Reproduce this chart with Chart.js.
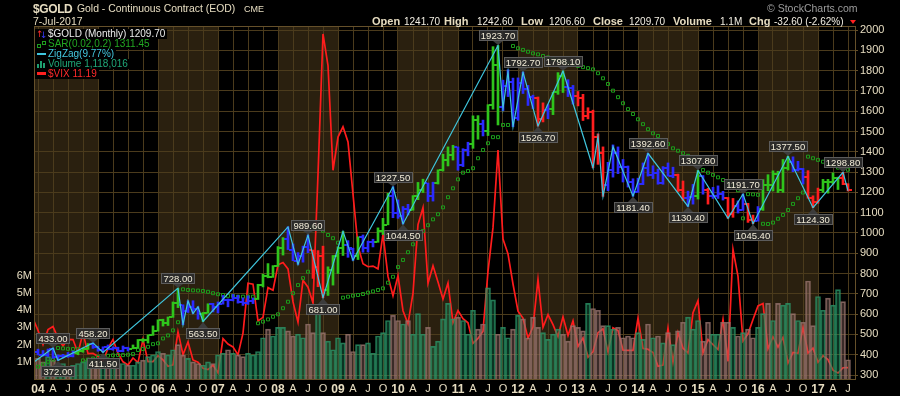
<!DOCTYPE html>
<html>
<head>
<meta charset="utf-8">
<script src="https://cdn.jsdelivr.net/npm/chart.js@4.4.1/dist/chart.umd.min.js"></script>
<style>
  html, body { margin: 0; padding: 0; background: #000; }
  #wrap { position: relative; width: 900px; height: 396px; overflow: hidden; font-family: "Liberation Sans", Arial, sans-serif; }
  #chart { position: absolute; left: 0; top: 0; }
  .t { position: absolute; white-space: nowrap; line-height: 1; color: #e6dcc0; }
  .b { font-weight: bold; font-size: 11px; top: 15.5px; }
  .n { font-size: 10px; top: 16.5px; color: #f2eee2; }
  .lg { position: absolute; left: 35px; height: 10px; line-height: 10px; font-size: 10px; background: #000; padding: 0 2px 0 13px; white-space: nowrap; }
  .ic { position: absolute; }
  .sq { width: 2px; height: 2px; border: 1px solid #1e9e1e; }
</style>
</head>
<body>
<div id="wrap">
  <canvas id="chart" width="900" height="396"></canvas>

  <div class="t" style="left:33px;top:2.5px;font-size:12px;font-weight:bold;letter-spacing:-0.4px;">$GOLD</div>
  <div class="t" style="left:77px;top:3.5px;font-size:10.4px;">Gold - Continuous Contract (EOD)</div>
  <div class="t" style="left:244px;top:4.5px;font-size:9px;">CME</div>
  <div class="t" style="left:33px;top:16px;font-size:10.5px;">7-Jul-2017</div>
  <div class="t" style="left:767px;top:3px;font-size:10.5px;color:#9c9c9c;">© StockCharts.com</div>

  <div class="t b" style="left:372px;">Open</div><div class="t n" style="left:404px;">1241.70</div>
  <div class="t b" style="left:444px;">High</div><div class="t n" style="left:477px;">1242.60</div>
  <div class="t b" style="left:521px;">Low</div><div class="t n" style="left:549px;">1206.60</div>
  <div class="t b" style="left:593px;">Close</div><div class="t n" style="left:629px;">1209.70</div>
  <div class="t b" style="left:673px;">Volume</div><div class="t n" style="left:720px;">1.1M</div>
  <div class="t b" style="left:749px;">Chg</div><div class="t n" style="left:774px;">-32.60 (-2.62%)</div>
  <div style="position:absolute;left:850px;top:20px;width:0;height:0;border-left:3.5px solid transparent;border-right:3.5px solid transparent;border-top:4px solid #ff2020;"></div>

  <div class="lg" style="top:29px;color:#ececec;">
    <span class="ic" style="left:1px;top:0;font:9px 'DejaVu Sans';color:#ff2a2a;">↑</span><span class="ic" style="left:5px;top:1px;font:9px 'DejaVu Sans';color:#3a3aff;">↓</span>$GOLD (Monthly) 1209.70</div>
  <div class="lg" style="top:39px;color:#22a822;">
    <span class="ic sq" style="left:2px;top:5px;"></span><span class="ic sq" style="left:7px;top:2px;"></span>SAR(0.02,0.2) 1311.45</div>
  <div class="lg" style="top:49px;color:#44c8e0;">
    <span class="ic" style="left:2px;top:4px;width:9px;height:2px;background:#3fc6de;"></span>ZigZag(9.77%)</div>
  <div class="lg" style="top:59px;color:#1fa878;">
    <span class="ic" style="left:2px;top:5px;width:2px;height:4px;background:#1fa070;"></span><span class="ic" style="left:5px;top:2px;width:2px;height:7px;background:#1fa070;"></span><span class="ic" style="left:8px;top:4px;width:2px;height:5px;background:#1fa070;"></span>Volume 1,118,016</div>
  <div class="lg" style="top:69px;color:#ff2a2a;">
    <span class="ic" style="left:2px;top:3px;width:9px;height:3px;background:#ff2020;"></span>$VIX 11.19</div>
</div>

<script>
// month index 0 = Jan 2004 ... 162 = Jul 2017
const yearLabels = ['04','05','06','07','08','09','10','11','12','13','14','15','16','17'];
const monthLetters = ['A', 'J', 'O'];
const shadedYears = [2004, 2006, 2008, 2010, 2012, 2014, 2016];
const priceTicks = [300,400,500,600,700,800,900,1000,1100,1200,1300,1400,1500,1600,1700,1800,1900,2000];
const volumeTicks = [1, 2, 3, 4, 5, 6];

const opens = [
  415.6,399.8,396.8,427.3,387.5,395.2,395.8,391.4,409.0,416.3,429.4,452.4,
  438.4,423.2,436.2,428.6,435.2,417.9,435.5,429.5,434.2,472.7,471.1,495.6,
  518.9,569.8,556.0,584.0,654.5,643.5,616.0,632.9,623.9,598.2,606.5,648.8,
  635.7,652.0,671.8,668.0,679.4,659.3,652.5,666.9,673.0,743.0,789.1,783.5,
  838.0,923.7,971.5,916.2,863.1,887.3,928.3,913.9,833.0,884.5,718.8,815.5,
  884.3,927.3,942.0,922.0,884.4,978.9,927.4,954.4,955.2,1007.7,1040.4,1182.0,
  1096.2,1083.0,1118.7,1113.3,1180.0,1212.2,1244.5,1181.7,1247.8,1307.8,1359.4,1386.1,
  1421.4,1332.8,1411.0,1439.0,1556.0,1536.2,1500.4,1628.3,1825.1,1620.4,1725.2,1746.0,
  1566.8,1738.0,1711.3,1669.3,1664.0,1560.3,1604.2,1610.2,1692.6,1772.1,1718.9,1714.7,
  1675.8,1663.4,1578.1,1596.1,1472.1,1393.6,1234.5,1312.4,1396.1,1327.0,1323.6,1253.1,
  1202.3,1240.1,1321.4,1283.8,1295.9,1246.0,1321.9,1282.5,1287.4,1210.5,1171.1,1175.5,
  1184.1,1278.5,1212.6,1183.1,1184.1,1190.0,1172.0,1095.0,1132.7,1114.5,1142.1,1065.3,
  1060.3,1116.4,1234.4,1233.8,1290.5,1212.9,1320.6,1350.9,1309.0,1313.3,1275.4,1174.0,
  1152.3,1211.6,1253.0,1249.0,1268.3,1268.9,1241.7
];
const highs = [
  427.3,420.5,428.0,433.0,399.0,402.0,411.0,418.0,419.0,434.0,455.0,458.2,
  442.0,439.0,448.0,439.0,437.0,443.0,437.0,448.0,475.0,479.0,498.0,542.0,
  572.0,575.0,586.0,660.0,728.0,646.0,665.0,666.0,636.0,608.0,651.0,653.0,
  660.0,692.0,675.0,697.0,693.0,680.0,690.0,679.0,747.0,797.0,849.0,839.0,
  933.0,977.0,1030.0,946.0,903.0,935.0,989.6,916.0,913.0,935.0,833.0,889.0,
  932.0,1007.7,962.0,925.0,981.0,990.0,960.0,969.0,1025.0,1072.0,1195.0,1227.5,
  1163.0,1130.0,1141.0,1184.0,1249.0,1265.0,1246.0,1250.0,1311.0,1388.0,1424.0,1432.0,
  1424.0,1415.0,1447.0,1577.0,1578.0,1556.0,1632.0,1917.9,1923.7,1753.0,1804.0,1763.0,
  1764.0,1792.7,1727.0,1679.0,1670.0,1641.0,1632.0,1694.0,1790.0,1798.1,1755.0,1727.0,
  1697.0,1683.0,1617.0,1605.0,1487.9,1424.0,1348.0,1433.8,1424.0,1362.0,1330.0,1267.0,
  1270.0,1345.0,1392.6,1331.0,1315.0,1327.0,1345.0,1324.0,1290.0,1256.0,1206.0,1239.0,
  1307.8,1283.0,1220.0,1225.0,1232.0,1205.0,1175.0,1170.0,1158.0,1191.7,1146.0,1088.0,
  1130.0,1263.0,1287.0,1306.0,1304.0,1362.0,1377.5,1375.0,1353.0,1318.0,1307.0,1183.0,
  1221.0,1264.0,1264.0,1296.0,1275.0,1298.8,1242.6
];
const lows = [
  399.0,393.0,391.0,382.0,372.0,384.0,387.0,389.0,400.0,412.0,426.0,431.0,
  417.0,411.5,424.0,422.0,414.0,414.0,418.0,429.0,433.0,462.0,457.0,495.0,
  516.0,541.0,544.0,584.0,632.0,548.0,608.0,603.0,575.0,563.5,604.0,611.0,
  606.0,649.0,636.0,665.0,654.0,643.0,648.0,652.0,672.0,734.0,779.0,781.0,
  835.0,891.0,918.0,863.0,845.0,856.0,903.0,776.0,735.0,681.0,692.0,743.0,
  800.0,889.0,880.0,865.0,869.0,905.0,906.0,931.0,954.0,992.0,1040.0,1075.0,
  1072.0,1044.5,1088.0,1112.0,1164.0,1199.0,1155.0,1157.0,1241.0,1305.0,1330.0,1359.0,
  1309.0,1327.0,1380.0,1417.0,1462.0,1478.0,1480.0,1610.0,1532.0,1603.0,1672.0,1523.9,
  1555.0,1687.0,1628.0,1613.0,1526.7,1547.0,1563.0,1583.0,1683.0,1692.0,1672.0,1635.0,
  1626.0,1554.0,1562.0,1321.5,1338.0,1180.5,1208.0,1275.0,1292.0,1251.0,1226.0,1181.4,
  1200.0,1238.0,1280.0,1268.0,1240.0,1240.0,1280.0,1272.0,1204.0,1160.0,1130.4,1142.0,
  1167.0,1191.0,1142.0,1170.0,1170.0,1162.0,1072.3,1077.0,1098.0,1111.0,1052.0,1045.4,
  1058.0,1111.0,1208.0,1207.0,1199.0,1200.0,1310.0,1302.0,1305.0,1241.0,1171.0,1124.3,
  1146.0,1200.0,1196.0,1241.0,1214.0,1238.0,1206.6
];
const closes = [
  399.8,396.8,427.3,387.5,395.2,395.8,391.4,409.0,416.3,429.4,452.4,438.4,
  423.2,436.2,428.6,435.2,417.9,435.5,429.5,434.2,472.7,471.1,495.6,518.9,
  569.8,556.0,584.0,654.5,643.5,616.0,632.9,623.9,598.2,606.5,648.8,635.7,
  652.0,671.8,668.0,679.4,659.3,652.5,666.9,673.0,743.0,789.1,783.5,838.0,
  923.7,971.5,916.2,863.1,887.3,928.3,913.9,833.0,884.5,718.8,815.5,884.3,
  927.3,942.0,924.3,884.4,978.9,927.4,954.4,955.2,1007.7,1040.4,1182.0,1096.2,
  1083.0,1118.7,1113.3,1180.0,1212.2,1244.5,1181.7,1247.8,1307.8,1359.4,1386.1,1421.4,
  1332.8,1411.0,1439.0,1556.0,1536.2,1500.4,1628.3,1825.1,1620.4,1725.2,1746.0,1566.8,
  1738.0,1711.3,1669.3,1664.0,1560.3,1604.2,1610.2,1692.6,1772.1,1718.9,1714.7,1675.8,
  1663.4,1578.1,1596.1,1472.1,1393.6,1234.5,1312.4,1396.1,1327.0,1323.6,1253.1,1202.3,
  1240.1,1321.4,1283.8,1295.9,1246.0,1321.9,1282.5,1287.4,1210.5,1171.1,1175.5,1184.1,
  1278.5,1212.6,1183.1,1184.1,1190.0,1172.0,1095.0,1132.7,1114.5,1142.1,1065.3,1060.3,
  1116.4,1234.4,1233.8,1290.5,1212.9,1320.6,1350.9,1309.0,1313.3,1275.4,1174.0,1152.3,
  1211.6,1253.0,1249.0,1268.3,1268.9,1242.3,1209.7
];
// bar colour codes: G green, B blue, R red (one string per year)
const barColorCodes = [
  'BBBBBBBBGGGB', 'BBBBBBBGGGGG', 'GGGGGBBBBGGB', 'BBBBBBBBGGGG', 'GGBBBBBRRRGG',
  'GGBBGBBBGGGB', 'BBBGGGBBGGGG', 'BBBGGBGGGBBB', 'BBBBRRBGGGBB', 'RRRRRRBBBBBB',
  'BBBBBBBBRRBB', 'GBRBBBRRBBRR', 'BGGGGGGBBBRR', 'RGGGGRR'
];
const sar = [
  341,352,365,376,433,431,429,428,427,372,376,381,
  389,392,395,397,398,398,400,403,423,428,439,452,
  456,480,495,520,560,722,719,717,716,714,710,703,
  698,694,690,690,686,686,686,686,555,563,574,587,
  599,629,661,703,743,777,809,1030,1022,1011,990,974,
  952,681,686,691,694,699,706,712,719,727,755,784,
  832,867,905,944,985,1010,1038,1067,1092,1126,1176,1220,
  1264,1297,1305,1319,1368,1409,1442,1472,1472,1532,1532,1921,
  1910,1902,1893,1885,1880,1872,1865,1857,1850,1842,1836,1829,
  1823,1817,1812,1806,1787,1762,1734,1701,1669,1639,1610,1586,
  1560,1536,1511,1491,1478,1458,1438,1417,1405,1393,1380,1360,
  1335,1310,1297,1286,1274,1261,1250,1235,1210,1072,1191,1190,
  1188,1045,1044,1051,1070,1089,1113,1143,1171,1199,1376,1368,
  1360,1351,1338,1330,1322,1316,1311.45
];
// volume in millions
const volumes = [
  1.2,1.0,1.3,1.1,0.8,0.9,0.7,0.8,0.9,1.0,1.1,0.9,
  0.9,1.0,1.1,1.0,0.9,0.9,0.8,0.8,1.0,1.1,1.3,1.4,
  1.6,1.5,1.4,1.7,2.0,1.4,1.2,1.0,0.9,0.8,1.0,0.9,
  1.4,1.5,1.7,1.5,1.4,1.3,1.5,1.4,1.6,2.4,2.9,2.5,
  3.0,3.0,2.8,2.5,2.6,2.4,3.2,2.7,3.8,2.7,2.2,1.7,
  2.4,2.1,2.6,1.6,2.0,2.0,2.1,1.5,2.5,2.7,3.4,3.7,
  3.4,3.2,3.4,2.6,3.8,2.6,3.0,1.9,2.2,3.5,4.4,3.5,
  3.6,3.4,2.6,4.0,2.9,3.2,5.3,4.6,2.6,3.0,2.4,2.9,
  3.7,3.5,2.4,3.6,3.0,2.7,2.3,2.6,2.9,2.6,2.2,3.1,
  3.0,2.8,4.4,4.1,4.0,3.1,3.1,2.9,3.0,2.4,2.5,2.4,
  2.7,2.3,3.2,2.4,2.5,2.1,2.7,2.0,2.8,3.3,3.6,2.9,
  3.4,2.2,3.3,2.6,2.6,3.3,3.3,3.0,2.5,2.7,2.9,2.4,
  3.0,3.8,4.4,3.4,4.4,4.3,4.4,3.8,3.4,3.3,5.7,3.1,
  4.8,4.0,4.7,4.3,5.2,4.5,1.118
];
// $VIX monthly closes, starting Dec 2003 (index -1)
const vixStart = -1;
const vix = [
  18.31,
  16.63,14.55,16.74,17.19,15.50,14.34,15.32,15.29,13.34,16.27,13.24,13.29,
  12.82,12.08,14.02,15.31,13.29,12.04,11.57,12.60,11.92,15.32,12.06,12.07,
  12.95,12.34,11.39,11.59,16.44,13.08,14.95,12.31,11.98,11.10,10.91,11.56,
  10.42,15.42,14.64,14.22,13.05,16.23,23.52,23.38,18.00,18.53,22.87,22.50,
  26.20,26.54,25.61,20.79,17.83,23.95,22.94,20.65,39.39,59.89,55.28,40.00,
  44.84,46.35,44.14,36.50,28.92,26.35,25.92,26.01,25.61,30.69,24.51,21.68,
  24.62,19.50,17.59,22.05,32.07,34.54,23.50,26.05,23.70,21.20,23.54,17.75,
  19.53,18.35,17.74,14.75,15.45,16.52,25.25,31.62,42.96,29.96,27.80,23.40,
  19.44,18.43,15.50,17.15,24.06,17.08,18.93,17.47,15.73,18.60,15.87,18.02,
  14.28,15.51,12.70,13.52,16.30,16.86,13.45,17.01,16.60,13.75,13.70,13.72,
  18.41,14.00,13.88,13.41,11.40,11.57,16.95,11.98,16.31,14.03,13.33,19.20,
  20.97,13.34,15.29,14.55,13.84,18.23,12.12,28.43,24.50,15.07,16.13,18.21,
  20.20,20.55,13.95,15.70,14.19,15.63,11.87,13.42,13.29,17.06,13.33,14.04,
  11.99,12.92,12.37,10.82,10.41,11.18,11.19
];
// ZigZag vertices (month index, price)
const zigzagIdx = [-1,3,4,11,13,28,29,30,31,32,33,50,52,54,57,61,63,71,73,92,93,94,95,97,100,105,111,112,113,115,119,122,130,132,138,141,143,150,155,161,162];
const zigzagVal = [360,433,372,458.2,411.5,728,548,665,603,636,563.5,1030,845,989.6,681,1007.7,865,1227.5,1044.5,1923.7,1614,1795,1523,1792.7,1526.7,1798.1,1321,1476,1180,1425,1181.4,1392.6,1130.4,1307.8,1072,1191.7,1045.4,1377.5,1124.3,1298.8,1207];
// labelled pivots: H above, L below
const pivotIdx = [3,4,11,13,28,33,54,57,71,73,92,97,100,105,119,122,130,132,141,143,150,155,161];
const pivotVal = [433,372,458.2,411.5,728,563.5,989.6,681,1227.5,1044.5,1923.7,1792.7,1526.7,1798.1,1181.4,1392.6,1130.4,1307.8,1191.7,1045.4,1377.5,1124.3,1298.8];
const pivotSide = ['H','L','H','L','H','L','H','L','H','L','H','H','L','H','L','H','L','H','H','L','H','L','H'];

const gridColor = '#4b3b1c';
const frameColor = '#65502a';
const textColor = '#e6dcc0';
const colorMap = { G: '#2fc41c', B: '#2b2bff', R: '#ff1e1e' };
const codes = barColorCodes.join('').split('');
const idx = closes.map((_, i) => i);

function tickImg(color, side) {
  const c = document.createElement('canvas');
  c.width = 8; c.height = 2;
  const g = c.getContext('2d');
  g.fillStyle = color;
  g.fillRect(side === 'open' ? 0 : 5, 0, 3, 2);
  return c;
}
const openImgs = {}, closeImgs = {};
Object.keys(colorMap).forEach(k => {
  openImgs[k] = tickImg(colorMap[k], 'open');
  closeImgs[k] = tickImg(colorMap[k], 'close');
});

const isUp = i => closes[i] >= (i > 0 ? closes[i - 1] : opens[i]);

const bandsPlugin = {
  id: 'bands',
  beforeDraw(chart) {
    const { ctx, chartArea: a, scales: { x } } = chart;
    ctx.save();
    ctx.fillStyle = '#000';
    ctx.fillRect(0, 0, chart.width, chart.height);
    ctx.fillStyle = '#2a200f';
    shadedYears.forEach(y => {
      const k = y - 2004;
      const x0 = k === 0 ? a.left : x.getPixelForValue(k * 12);
      const x1 = Math.min(a.right, x.getPixelForValue(k * 12 + 12));
      ctx.fillRect(x0, a.top, x1 - x0, a.bottom - a.top);
    });
    ctx.restore();
  },
  beforeDatasetsDraw(chart) {
    const { ctx, chartArea: a } = chart;
    ctx.save();
    ctx.strokeStyle = frameColor;
    ctx.lineWidth = 1;
    ctx.strokeRect(a.left - 0.5, a.top - 0.5, a.right - a.left + 1, a.bottom - a.top + 1);
    ctx.restore();
  }
};

const pivotLabels = {
  id: 'pivotLabels',
  afterDatasetsDraw(chart) {
    const { ctx, scales: { x, price } } = chart;
    ctx.save();
    ctx.font = '9.5px "Liberation Sans", Arial, sans-serif';
    ctx.textAlign = 'center';
    ctx.textBaseline = 'middle';
    pivotIdx.forEach((i, k) => {
      const v = pivotVal[k];
      const up = pivotSide[k] === 'H';
      const px = Math.round(x.getPixelForValue(i));
      const py = price.getPixelForValue(v);
      const text = v.toFixed(2);
      const w = Math.round(ctx.measureText(text).width) + 5;
      const h = 11;
      const bx = Math.round(px - w / 2);
      const by = Math.round(up ? py - 4 - h : py + 6);
      ctx.fillStyle = '#3c3c3c';
      ctx.beginPath();
      if (up) { ctx.moveTo(px - 5, by + h); ctx.lineTo(px + 5, by + h); ctx.lineTo(px, py - 0.5); }
      else { ctx.moveTo(px - 5, by); ctx.lineTo(px + 5, by); ctx.lineTo(px, py + 0.5); }
      ctx.fill();
      ctx.fillStyle = 'rgba(44,44,44,0.93)';
      ctx.fillRect(bx, by, w, h);
      ctx.strokeStyle = '#5c5c5c';
      ctx.strokeRect(bx + 0.5, by + 0.5, w - 1, h - 1);
      ctx.fillStyle = '#f2ecd8';
      ctx.fillText(text, px, by + h / 2 + 0.5);
    });
    ctx.restore();
  }
};

new Chart(document.getElementById('chart'), {
  type: 'line',
  data: {
    datasets: [
      {
        type: 'line', label: 'ZigZag', yAxisID: 'price', order: 1,
        data: zigzagIdx.map((i, k) => ({ x: i, y: zigzagVal[k] })),
        borderColor: '#3fc6de', borderWidth: 1.2, pointRadius: 0, tension: 0
      },
      {
        type: 'bar', label: 'range', yAxisID: 'price', order: 2, grouped: false,
        data: idx.map(i => ({ x: i, y: [lows[i], highs[i]] })),
        backgroundColor: codes.map(c => colorMap[c]), barThickness: 2, borderWidth: 0
      },
      {
        type: 'line', label: 'open', yAxisID: 'price', order: 2, showLine: false,
        data: idx.map(i => ({ x: i, y: opens[i] })),
        pointRadius: 1, pointStyle: ctx => openImgs[codes[ctx.dataIndex]]
      },
      {
        type: 'line', label: 'close', yAxisID: 'price', order: 2, showLine: false,
        data: idx.map(i => ({ x: i, y: closes[i] })),
        pointRadius: 1, pointStyle: ctx => closeImgs[codes[ctx.dataIndex]]
      },
      {
        type: 'line', label: 'SAR', yAxisID: 'price', order: 3, showLine: false,
        data: idx.map(i => ({ x: i, y: sar[i] })),
        pointStyle: 'rect', pointRadius: 2.1, pointBorderWidth: 1,
        pointBorderColor: '#1c9c1c', pointBackgroundColor: 'rgba(0,0,0,0)'
      },
      {
        type: 'bar', label: 'Volume', yAxisID: 'vol', order: 5, grouped: false,
        data: idx.map(i => ({ x: i, y: volumes[i] })),
        barPercentage: 1, categoryPercentage: 1, borderWidth: 1,
        backgroundColor: idx.map(i => isUp(i) ? 'rgba(30,140,95,0.36)' : 'rgba(160,118,112,0.36)'),
        borderColor: idx.map(i => isUp(i) ? 'rgba(45,150,105,0.8)' : 'rgba(150,115,110,0.8)')
      },
      {
        type: 'line', label: '$VIX', yAxisID: 'vix', order: 6,
        data: vix.map((v, k) => ({ x: vixStart + k, y: v })),
        borderColor: '#ff1c1c', borderWidth: 1.7, pointRadius: 0, tension: 0
      }
    ]
  },
  options: {
    responsive: false,
    devicePixelRatio: 1,
    animation: false,
    events: [],
    layout: { padding: { top: 27, left: 0, right: 0, bottom: 0 } },
    plugins: { legend: { display: false }, tooltip: { enabled: false }, title: { display: false } },
    scales: {
      x: {
        type: 'linear', position: 'bottom', min: -0.6, max: 163.4, offset: false,
        afterBuildTicks: s => { s.ticks = yearLabels.flatMap((_, y) => [0, 3, 6, 9].map(m => y * 12 + m)).filter(v => v <= 162).map(v => ({ value: v })); },
        afterFit: s => { s.height = 17; },
        grid: { color: gridColor, lineWidth: 1, drawTicks: false, offset: false },
        border: { display: true, color: frameColor },
        ticks: {
          color: textColor, padding: 3, autoSkip: false, maxRotation: 0,
          font: ctx => (ctx.tick && ctx.tick.value % 12 === 0)
            ? { family: '"Liberation Sans", Arial, sans-serif', size: 12, weight: 'bold' }
            : { family: '"Liberation Sans", Arial, sans-serif', size: 11 },
          callback: v => v % 12 === 0 ? yearLabels[v / 12] : monthLetters[(v % 12) / 3 - 1]
        }
      },
      vol: {
        type: 'linear', position: 'left', min: 0, max: 20.47,
        afterBuildTicks: s => { s.ticks = volumeTicks.map(v => ({ value: v })); },
        afterFit: s => { s.width = 35; },
        grid: { display: false, drawTicks: false },
        border: { display: false },
        ticks: { color: textColor, padding: 3, font: { family: '"Liberation Sans", Arial, sans-serif', size: 11 }, callback: v => v + 'M' }
      },
      price: {
        type: 'linear', position: 'right', min: 280.29, max: 2014.8,
        afterBuildTicks: s => { s.ticks = priceTicks.map(v => ({ value: v })); },
        afterFit: s => { s.width = 45; },
        grid: { color: gridColor, lineWidth: 1, drawTicks: true, tickLength: 3, tickColor: frameColor },
        border: { display: true, color: frameColor },
        ticks: { color: textColor, padding: 2, font: { family: '"Liberation Sans", Arial, sans-serif', size: 11 }, callback: v => String(v) }
      },
      vix: { type: 'linear', display: false, min: 9.534, max: 60.91 }
    }
  },
  plugins: [bandsPlugin, pivotLabels]
});
</script>
</body>
</html>
